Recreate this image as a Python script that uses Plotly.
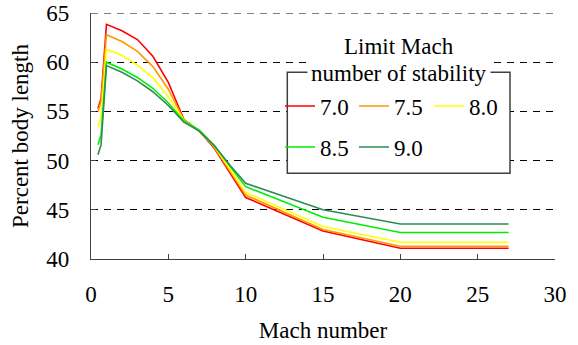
import plotly.graph_objects as go

mach = [0.45, 0.65, 1.0, 2, 3, 4, 5, 6, 7, 8, 9, 10, 15, 20, 27]

limit_labels = ["7.0", "7.5", "8.0", "8.5", "9.0"]
colors = ["#FF0000", "#FF9900", "#FFFF00", "#00EE00", "#2E8B57"]

pct_70 = [55.3, 56.3, 63.85, 63.2, 62.3, 60.6, 57.95, 54.2, 53.0, 51.2, 48.7, 46.25, 42.85, 41.1, 41.1]
pct_75 = [55.0, 56.0, 62.8, 62.1, 61.1, 59.55, 57.25, 54.15, 53.0, 51.3, 48.9, 46.5, 43.0, 41.3, 41.3]
pct_80 = [53.4, 54.4, 61.3, 60.7, 59.7, 58.4, 56.5, 54.1, 53.05, 51.4, 49.1, 46.75, 43.3, 41.7, 41.7]
pct_85 = [51.6, 52.6, 60.0, 59.3, 58.45, 57.35, 55.85, 54.05, 53.1, 51.5, 49.4, 47.35, 44.24, 42.7, 42.7]
pct_90 = [50.6, 51.6, 59.65, 58.97, 58.1, 57.0, 55.6, 53.9, 53.0, 51.45, 49.5, 47.7, 45.0, 43.55, 43.55]

series = [pct_70, pct_75, pct_80, pct_85, pct_90]

x_ticks = [0, 5, 10, 15, 20, 25, 30]
y_ticks = [40, 45, 50, 55, 60, 65]

FONT = "Liberation Serif"
AXC = "#404040"
GRID_DASH = "7px,6px"

fig = go.Figure()
legend_names = ["legend", "legend2", "legend3", "legend4", "legend5"]
for lab, col, ys, lg in zip(limit_labels, colors, series, legend_names):
    fig.add_trace(go.Scatter(x=mach, y=ys, mode="lines", name=lab,
                             line=dict(color=col, width=1.6), legend=lg))

L, R, T, B = 91, 23, 13, 86
W, H = 578, 345
pw, ph = W - L - R, H - T - B

def px(xp):
    return (xp - L) / pw

def py(yp):
    return (H - B - yp) / ph

leg_pos = [(280, 106), (354, 106), (429, 106), (280, 147), (354, 147)]
leg_common = dict(font=dict(family=FONT, size=23, color="black"),
                  bgcolor="rgba(0,0,0,0)", borderwidth=0,
                  xanchor="left", yanchor="middle", orientation="h")
layout_legends = {}
for lg, (lx, ly) in zip(legend_names, leg_pos):
    layout_legends[lg] = dict(x=px(lx), y=py(ly), **leg_common)

fig.update_layout(
    width=W, height=H,
    margin=dict(l=L, r=R, t=T, b=B, autoexpand=False),
    paper_bgcolor="white", plot_bgcolor="white",
    font=dict(family=FONT, size=23, color="black"),
    showlegend=True,
    **layout_legends,
)

fig.update_xaxes(range=[0, 30], tickvals=x_ticks, ticks="inside", ticklen=5,
                 tickcolor=AXC, showline=True, linecolor=AXC, linewidth=1.3,
                 showgrid=False, zeroline=False, automargin=False,
                 ticklabeloverflow="allow",
                 tickfont=dict(family=FONT, size=23, color="black"),
                 ticklabelstandoff=14,
                 title=dict(text="Mach number", font=dict(family=FONT, size=23, color="black"),
                            standoff=16))
fig.update_yaxes(range=[40, 65], tickvals=y_ticks, ticks="inside", ticklen=5,
                 tickcolor=AXC, showline=True, linecolor=AXC, linewidth=1.3,
                 showgrid=True, gridcolor="black", gridwidth=1, griddash=GRID_DASH,
                 zeroline=False, automargin=False,
                 ticklabeloverflow="allow",
                 tickfont=dict(family=FONT, size=23, color="black"),
                 ticklabelstandoff=16,
                 title=dict(text="Percent body length", font=dict(family=FONT, size=23, color="black"),
                            standoff=11))

# top gridline at the upper range edge (not drawn by plotly at the domain edge)
fig.add_shape(type="line", xref="paper", yref="y", x0=0, x1=1,
              y0=y_ticks[-1], y1=y_ticks[-1],
              line=dict(color="black", width=1, dash=GRID_DASH), layer="below")

# legend frame
fig.add_shape(type="rect", xref="paper", yref="paper",
              x0=px(287.3), x1=px(510), y0=py(173.3), y1=py(72.3),
              line=dict(color=AXC, width=1.5), fillcolor="white", layer="above")

fig.add_annotation(xref="paper", yref="paper", x=px(399), y=py(46),
                   xanchor="center", yanchor="middle",
                   text="Limit Mach", showarrow=False, bgcolor="white", borderpad=5,
                   font=dict(family=FONT, size=23, color="black"))
fig.add_annotation(xref="paper", yref="paper", x=px(399), y=py(73),
                   xanchor="center", yanchor="middle",
                   text="number of stability", showarrow=False, bgcolor="white", borderpad=3,
                   font=dict(family=FONT, size=23, color="black"))

fig.write_html("out.html", config={"displayModeBar": False},
               post_script="document.body.style.margin='0';")
